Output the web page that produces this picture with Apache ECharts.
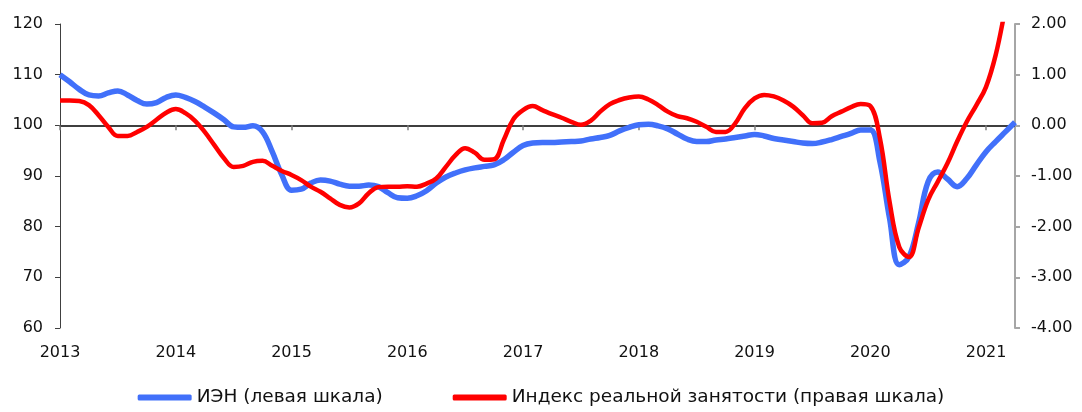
<!DOCTYPE html>
<html>
<head>
<meta charset="utf-8">
<title>ИЭН и индекс реальной занятости</title>
<style>
	html, body { margin: 0; padding: 0; background: #fff; }
	#main { width: 1082px; height: 412px; }
</style>
</head>
<body>
<div id="main"></div>
<script src="https://cdn.jsdelivr.net/npm/echarts@6/dist/echarts.min.js"></script>
<script>
	// months from 2013-01 to 2021-04
	var years = [2013, 2014, 2015, 2016, 2017, 2018, 2019, 2020, 2021];
	var months = [];
	for (var y = 0; y < years.length; y++) {
		for (var m = 1; m <= 12; m++) {
			if (years[y] == 2021 && m > 4) break;
			months.push(years[y] + '-' + (m < 10 ? '0' + m : m));
		}
	}

	// ИЭН (левая шкала)
	var ien = [
		110.0, 108.6, 107.1, 106.0, 105.8, 106.4, 106.8, 106.0, 104.9, 104.2, 104.5, 105.5,
		106.0, 105.5, 104.7, 103.6, 102.4, 101.1, 99.7, 99.6, 99.9, 98.7, 94.8, 90.2,
		87.2, 87.4, 88.6, 89.2, 89.0, 88.4, 88.0, 88.0, 88.2, 87.9, 86.7, 85.7,
		85.6, 86.1, 87.1, 88.6, 89.8, 90.6, 91.2, 91.6, 91.9, 92.2, 93.2, 94.7,
		96.0, 96.5, 96.6, 96.6, 96.7, 96.8, 96.9, 97.3, 97.6, 98.0, 98.9, 99.6,
		100.1, 100.2, 99.9, 99.3, 98.3, 97.3, 96.8, 96.8, 97.1, 97.3, 97.6, 97.9,
		98.2, 97.9, 97.4, 97.1, 96.8, 96.5, 96.4, 96.7, 97.2, 97.8, 98.4, 99.1,
		99.1, 92.8, 81.6, 72.5, 74.0, 80.7, 88.9, 90.8, 89.4, 87.9, 89.5, 92.2,
		94.8, 96.8, 98.7, 100.6
	];

	// Индекс реальной занятости (правая шкала)
	var employment = [
		0.49, 0.49, 0.48, 0.40, 0.20, -0.03, -0.21, -0.21, -0.13, -0.03, 0.11, 0.25,
		0.32, 0.24, 0.09, -0.13, -0.39, -0.65, -0.82, -0.80, -0.72, -0.70, -0.80, -0.90,
		-0.98, -1.08, -1.21, -1.31, -1.44, -1.57, -1.62, -1.54, -1.34, -1.22, -1.21, -1.21,
		-1.20, -1.21, -1.15, -1.05, -0.82, -0.59, -0.45, -0.54, -0.68, -0.67, -0.29, 0.12,
		0.30, 0.38, 0.30, 0.22, 0.15, 0.07, 0.01, 0.09, 0.27, 0.42, 0.50, 0.55,
		0.57, 0.51, 0.40, 0.27, 0.18, 0.14, 0.07, -0.03, -0.13, -0.13, 0.04, 0.34,
		0.53, 0.60, 0.57, 0.49, 0.37, 0.20, 0.04, 0.05, 0.18, 0.27, 0.36, 0.42,
		0.38, -0.26, -1.51, -2.40, -2.60, -2.03, -1.47, -1.11, -0.75, -0.32, 0.07, 0.40,
		0.76, 1.39, 2.30, 3.20
	];

	var seriesNames = ['ИЭН (левая шкала)', 'Индекс реальной занятости (правая шкала)'];

	var font = '"DejaVu Sans", sans-serif';
	var myChart = echarts.init(document.getElementById('main'));
	var yearTick = function (index) { return index % 12 === 0; };

	myChart.setOption({
		backgroundColor: '#fff',
		animation: false,
		textStyle: { fontFamily: font },
		grid: { left: 60, right: 67, top: 24, bottom: 84 },
		legend: {
			bottom: 0,
			left: 'center',
			itemWidth: 54,
			itemHeight: 6,
			itemGap: 70,
			icon: 'roundRect',
			textStyle: { fontFamily: font, fontSize: 18.5, color: '#111' },
			data: seriesNames
		},
		xAxis: [
			{
				type: 'category',
				data: months,
				boundaryGap: false,
				axisLine: { show: false },
				axisTick: { show: false },
				axisLabel: {
					interval: yearTick,
					formatter: function (v) { return v.slice(0, 4); },
					fontFamily: font,
					fontSize: 16,
					color: '#111',
					margin: 17
				}
			},
			{
				// horizontal line at 100 / 0.00 with year ticks
				type: 'category',
				data: months,
				boundaryGap: false,
				position: 'bottom',
				offset: -202.7,
				axisLine: { show: true, lineStyle: { color: '#000', width: 1.5 } },
				axisTick: { show: true, interval: yearTick, length: 5, lineStyle: { color: '#808080', width: 1.5 } },
				axisLabel: { show: false }
			}
		],
		yAxis: [
			{
				type: 'value',
				min: 60,
				max: 120,
				interval: 10,
				position: 'left',
				splitLine: { show: false },
				axisLine: { show: true, lineStyle: { color: '#404040', width: 1 } },
				axisTick: { show: true, length: 5, lineStyle: { color: '#404040' } },
				axisLabel: { fontFamily: font, fontSize: 16, color: '#111', margin: 17 }
			},
			{
				type: 'value',
				min: -4,
				max: 2,
				interval: 1,
				position: 'right',
				splitLine: { show: false },
				axisLine: { show: true, lineStyle: { color: '#A6A6A6', width: 2 } },
				axisTick: { show: true, length: 5, lineStyle: { color: '#A6A6A6', width: 2 } },
				axisLabel: {
					fontFamily: font, fontSize: 16, color: '#111', margin: 16,
					formatter: function (v) { return v.toFixed(2); }
				}
			}
		],
		series: [
			{
				name: seriesNames[0],
				type: 'line',
				xAxisIndex: 0,
				yAxisIndex: 0,
				data: ien,
				smooth: 0.4,
				showSymbol: false,
				symbol: 'none',
				color: '#4170FA',
				lineStyle: { color: '#4170FA', width: 5.5 }
			},
			{
				name: seriesNames[1],
				type: 'line',
				xAxisIndex: 0,
				yAxisIndex: 1,
				data: employment,
				smooth: 0.4,
				showSymbol: false,
				symbol: 'none',
				color: '#FF0000',
				lineStyle: { color: '#FF0000', width: 4.5 }
			}
		]
	});
</script>
</body>
</html>
